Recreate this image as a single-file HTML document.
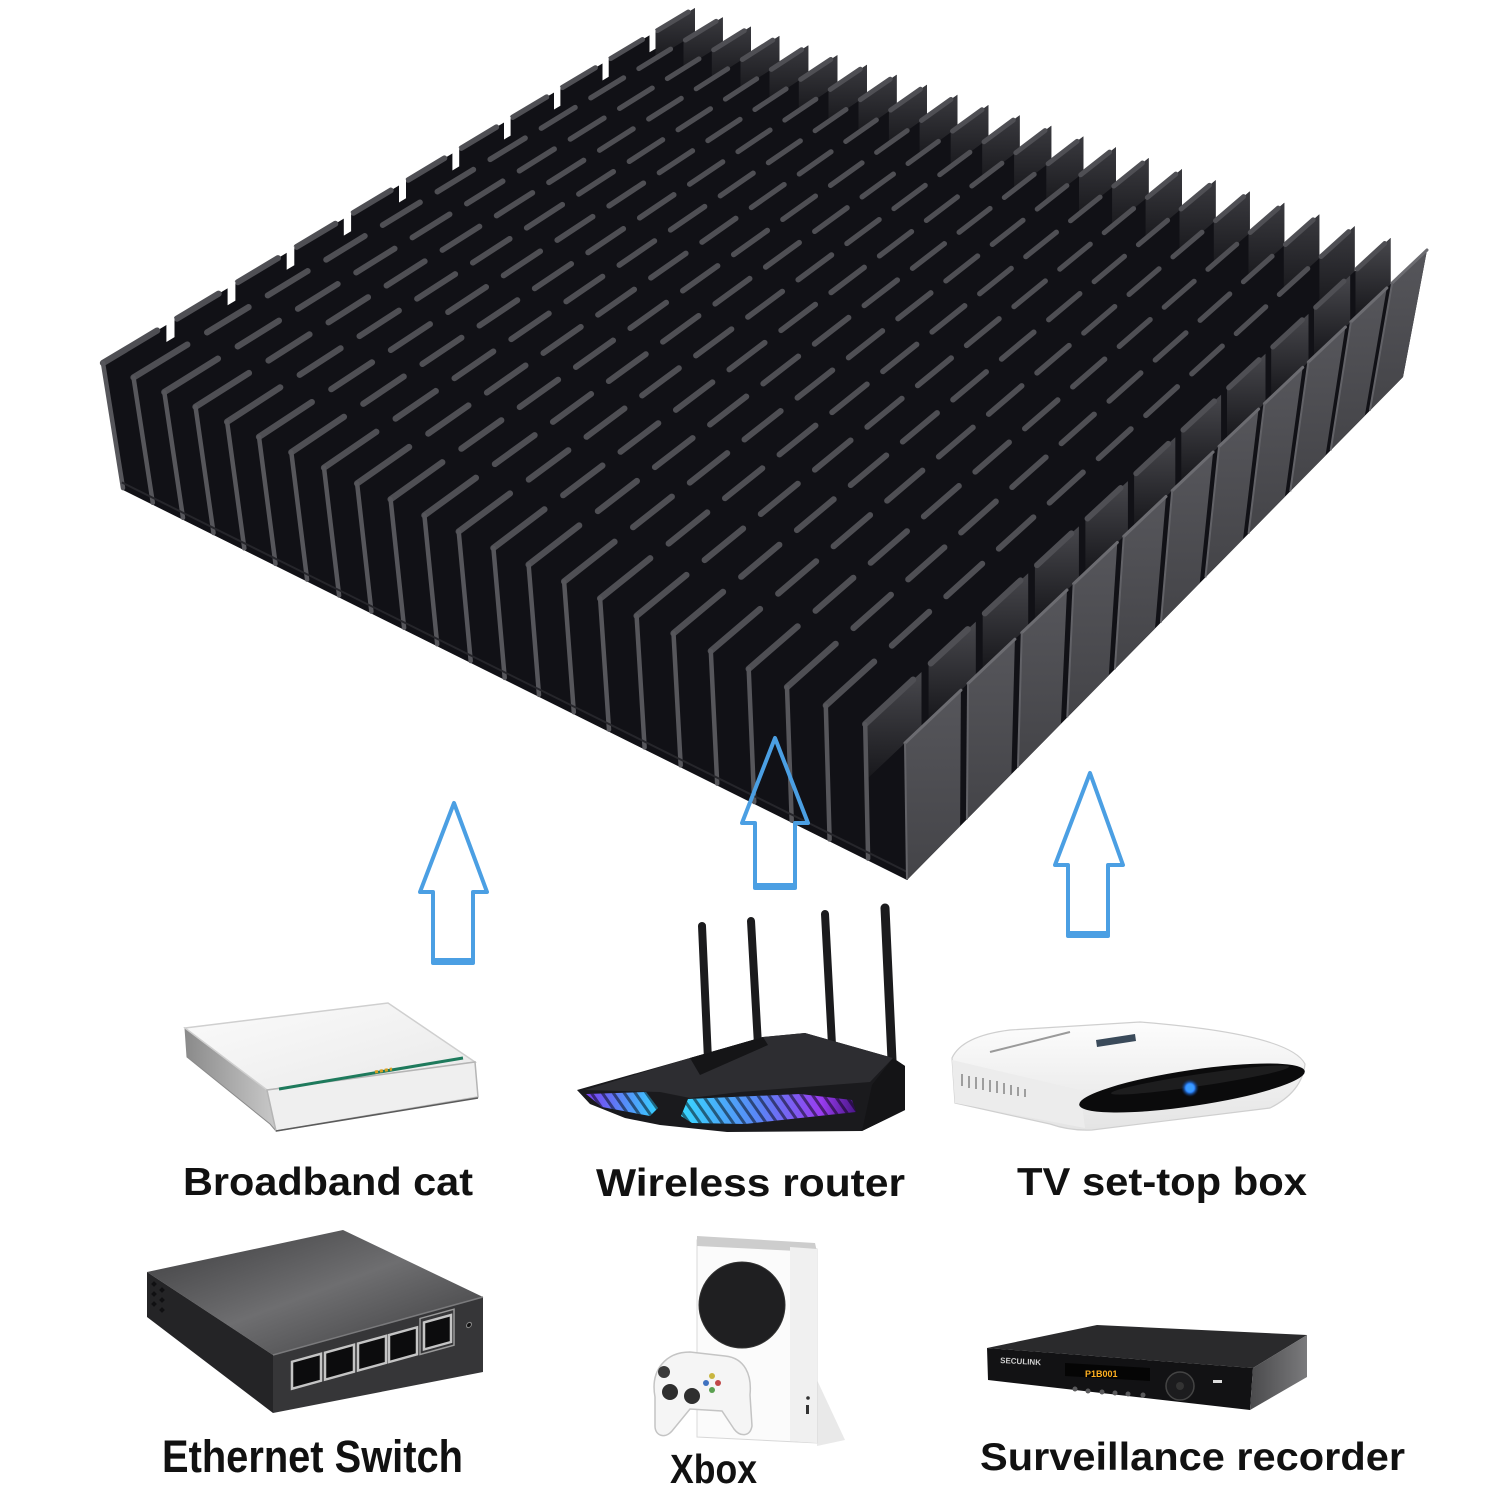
<!DOCTYPE html>
<html><head><meta charset="utf-8">
<style>
html,body{margin:0;padding:0;background:#fff;width:1500px;height:1500px;overflow:hidden;}
svg{display:block;}
text{font-family:"Liberation Sans",sans-serif;}
</style></head>
<body>
<svg id="s" width="1500" height="1500" viewBox="0 0 1500 1500" xmlns="http://www.w3.org/2000/svg">
<defs>
  <linearGradient id="gNear" x1="0" y1="0" x2="0" y2="1">
    <stop offset="0" stop-color="#56565b"/><stop offset="1" stop-color="#444448"/>
  </linearGradient>
  <linearGradient id="gStrip" x1="0" y1="0" x2="0" y2="1">
    <stop offset="0" stop-color="#48484d"/><stop offset="1" stop-color="#17171b"/>
  </linearGradient>
  <linearGradient id="gTooth" x1="0" y1="0" x2="0" y2="1">
    <stop offset="0" stop-color="#3a3a3f"/><stop offset="1" stop-color="#1a1a1e"/>
  </linearGradient>
  <linearGradient id="mTop" x1="0" y1="0" x2="1" y2="1">
    <stop offset="0" stop-color="#fbfbfb"/><stop offset="1" stop-color="#e9e9e9"/>
  </linearGradient>
  <linearGradient id="mLeft" x1="0" y1="0" x2="1" y2="0">
    <stop offset="0" stop-color="#8a8a8a"/><stop offset="1" stop-color="#c9c9c9"/>
  </linearGradient>
  <linearGradient id="ledL" x1="0" y1="0" x2="1" y2="0">
    <stop offset="0" stop-color="#7b3cf0"/><stop offset="1" stop-color="#36d2ff"/>
  </linearGradient>
  <linearGradient id="ledR" x1="0" y1="0" x2="1" y2="0">
    <stop offset="0" stop-color="#38d8ff"/><stop offset="0.45" stop-color="#5a84f5"/><stop offset="0.8" stop-color="#9a3cf0"/><stop offset="1" stop-color="#4a1688"/>
  </linearGradient>
  <pattern id="stripes" patternUnits="userSpaceOnUse" width="9" height="9" patternTransform="rotate(-35)">
    <rect x="0" y="0" width="3" height="9" fill="rgba(0,0,0,0.5)"/>
  </pattern>
  <linearGradient id="swTop" x1="0" y1="0" x2="1" y2="1">
    <stop offset="0" stop-color="#3c3c3e"/><stop offset="0.5" stop-color="#6e6e70"/><stop offset="1" stop-color="#3a3a3c"/>
  </linearGradient>
  <linearGradient id="stbBody" x1="0" y1="0" x2="0" y2="1">
    <stop offset="0" stop-color="#fdfdfd"/><stop offset="1" stop-color="#e4e4e4"/>
  </linearGradient>
  <linearGradient id="dvrSide" x1="0" y1="0" x2="1" y2="0">
    <stop offset="0" stop-color="#4a4a4c"/><stop offset="1" stop-color="#7a7a7c"/>
  </linearGradient>
  <radialGradient id="led" cx="0.5" cy="0.5" r="0.5">
    <stop offset="0" stop-color="#9fd4ff"/><stop offset="0.5" stop-color="#2a86ff"/><stop offset="1" stop-color="#0a2a66" stop-opacity="0"/>
  </radialGradient>
</defs>

<g id="hs"></g>

<!-- Arrows -->
<g fill="none" stroke="#4b9fe3" stroke-width="4" stroke-linejoin="round">
  <path d="M454,803 L487,892 L473,892 L473,963 L433,963 L433,892 L420,892 Z"/>
  <path d="M775,738 L808,823 L795,823 L795,888 L755,888 L755,823 L742,823 Z"/>
  <path d="M1090,773 L1123,865 L1108,865 L1108,936 L1068,936 L1068,865 L1055,865 Z"/>
</g>
<g fill="#4b9fe3">
  <rect x="433" y="958" width="40" height="7"/>
  <rect x="755" y="883" width="40" height="7"/>
  <rect x="1068" y="931" width="40" height="7"/>
</g>

<!-- Broadband cat (modem) -->
<g>
  <polygon points="185,1028 187,1057 270,1124 276,1131 267,1090" fill="url(#mLeft)" stroke="#8a8a8a" stroke-width="1"/>
  <polygon points="185,1028 388,1003 475,1062 267,1090" fill="url(#mTop)" stroke="#cfcfcf" stroke-width="1.5"/>
  <polygon points="267,1090 475,1062 478,1097 276,1131" fill="#efefef" stroke="#b5b5b5" stroke-width="1.5"/>
  <line x1="279" y1="1089" x2="463" y2="1058" stroke="#1e7a5c" stroke-width="3"/>
  <line x1="375" y1="1072" x2="392" y2="1069" stroke="#d8a020" stroke-width="3" stroke-dasharray="3,2"/>
  <line x1="276" y1="1131" x2="478" y2="1098" stroke="#5a5a5a" stroke-width="1.5"/>
</g>

<!-- Wireless router -->
<g>
  <g stroke="#1b1b1d" stroke-linecap="round">
    <line x1="702" y1="926" x2="708" y2="1060" stroke-width="8"/>
    <line x1="751" y1="921" x2="758" y2="1045" stroke-width="8"/>
    <line x1="825" y1="914" x2="832" y2="1045" stroke-width="8"/>
    <line x1="885" y1="908" x2="892" y2="1060" stroke-width="9"/>
  </g>
  <polygon points="577,1090 690,1058 763,1037 805,1033 893,1058 905,1066 905,1110 862,1131 727,1132 660,1125 625,1118 590,1104" fill="#1a1a1d"/>
  <polygon points="585,1090 690,1058 763,1037 805,1033 893,1058 870,1082 740,1092 690,1098 660,1092" fill="#2d2d31"/>
  <polygon points="690,1058 763,1037 768,1045 700,1075" fill="#151517"/>
  <polygon points="586,1094 646,1092 658,1108 650,1116 602,1107" fill="url(#ledL)"/>
  <polygon points="586,1094 646,1092 658,1108 650,1116 602,1107" fill="url(#stripes)"/>
  <polygon points="688,1099 800,1094 852,1100 856,1112 745,1124 692,1123 681,1116" fill="url(#ledR)"/>
  <polygon points="688,1099 800,1094 852,1100 856,1112 745,1124 692,1123 681,1116" fill="url(#stripes)"/>
  <polygon points="893,1058 905,1066 905,1110 862,1131 872,1085" fill="#141416"/>
</g>

<!-- TV set-top box -->
<g>
  <path d="M952,1058 Q962,1036 1010,1030 L1140,1022 Q1290,1034 1305,1064 Q1302,1092 1270,1108 L1092,1130 Q1070,1131 1050,1124 L955,1103 Z" fill="url(#stbBody)" stroke="#cfcfcf" stroke-width="1.2"/>
  <path d="M952,1060 L1080,1090 L1085,1128 L955,1103 Z" fill="#ececec"/>
  <g stroke="#8a8a8a" stroke-width="1.6">
    <line x1="962" y1="1074" x2="962" y2="1086"/><line x1="969" y1="1076" x2="969" y2="1088"/>
    <line x1="976" y1="1077" x2="976" y2="1089"/><line x1="983" y1="1078" x2="983" y2="1090"/>
    <line x1="990" y1="1080" x2="990" y2="1092"/><line x1="997" y1="1081" x2="997" y2="1093"/>
    <line x1="1004" y1="1083" x2="1004" y2="1094"/><line x1="1011" y1="1085" x2="1011" y2="1095"/>
    <line x1="1018" y1="1087" x2="1018" y2="1096"/><line x1="1025" y1="1089" x2="1025" y2="1097"/>
  </g>
  <ellipse cx="1192" cy="1088" rx="114" ry="18" transform="rotate(-8.5 1192 1088)" fill="#0b0b0c"/>
  <ellipse cx="1200" cy="1080" rx="90" ry="6" transform="rotate(-8.5 1200 1080)" fill="#2a2a2c" opacity="0.6"/>
  <circle cx="1190" cy="1088" r="9" fill="url(#led)"/>
  <circle cx="1190" cy="1088" r="3.5" fill="#3a9cff"/>
  <polygon points="1096,1040 1135,1034 1136,1041 1097,1047" fill="#3a4a5a"/>
  <line x1="990" y1="1052" x2="1070" y2="1032" stroke="#9a9a9a" stroke-width="2"/>
</g>

<!-- Ethernet switch -->
<g>
  <polygon points="147,1272 343,1230 483,1297 273,1355" fill="url(#swTop)"/>
  <polygon points="147,1272 273,1355 273,1413 147,1317" fill="#242426"/>
  <polygon points="273,1355 483,1297 483,1372 273,1413" fill="#363638"/>
  <line x1="273" y1="1355" x2="483" y2="1297" stroke="#7a7a7c" stroke-width="1.5"/>
  <g fill="#101012">
    <rect x="152" y="1282" width="4" height="4" transform="rotate(45 154 1284)"/>
    <rect x="160" y="1288" width="4" height="4" transform="rotate(45 162 1290)"/>
    <rect x="152" y="1292" width="4" height="4" transform="rotate(45 154 1294)"/>
    <rect x="160" y="1298" width="4" height="4" transform="rotate(45 162 1300)"/>
    <rect x="152" y="1302" width="4" height="4" transform="rotate(45 154 1304)"/>
    <rect x="160" y="1308" width="4" height="4" transform="rotate(45 162 1310)"/>
  </g>
  <g transform="translate(273,1355) skewY(-15.4)">
    <rect x="19" y="12" width="29" height="27" fill="#0c0c0d" stroke="#c4c4c4" stroke-width="2.5"/>
    <rect x="52" y="12" width="29" height="27" fill="#0c0c0d" stroke="#c4c4c4" stroke-width="2.5"/>
    <rect x="85" y="12" width="28" height="27" fill="#0c0c0d" stroke="#c4c4c4" stroke-width="2.5"/>
    <rect x="116" y="12" width="28" height="27" fill="#0c0c0d" stroke="#c4c4c4" stroke-width="2.5"/>
    <rect x="147" y="4" width="34" height="36" fill="none" stroke="#9a9a9a" stroke-width="1.5"/>
    <rect x="151" y="9" width="27" height="27" fill="#0c0c0d" stroke="#c4c4c4" stroke-width="2.5"/>
    <circle cx="196" cy="24" r="2.5" fill="#111" stroke="#888" stroke-width="1"/>
  </g>
</g>

<!-- Xbox -->
<g>
  <polygon points="817,1380 845,1440 817,1446" fill="#e9e9e9"/>
  <polygon points="697,1240 817,1249 817,1443 697,1437" fill="#fbfbfb" stroke="#d8d8d8" stroke-width="1"/>
  <polygon points="697,1236 815,1243 817,1252 697,1246" fill="#cdcdcd"/>
  <polygon points="790,1247 817,1249 817,1443 790,1441" fill="#f0f0f0"/>
  <circle cx="742" cy="1305" r="43" fill="#1f1f21"/>
  <circle cx="742" cy="1305" r="43" fill="none" stroke="#333" stroke-width="1"/>
  <rect x="806" y="1405" width="3" height="9" fill="#333"/>
  <circle cx="808" cy="1398" r="1.8" fill="#333"/>
  <path d="M655,1397 C650,1370 666,1352 690,1352 L725,1356 C745,1358 752,1375 750,1395 L752,1426 C750,1437 740,1437 734,1429 L722,1411 L690,1409 L672,1431 C665,1439 655,1436 655,1426 Z" fill="#f5f5f5" stroke="#c4c4c4" stroke-width="1.5"/>
  <circle cx="664" cy="1372" r="6" fill="#3a3a3a"/>
  <circle cx="670" cy="1392" r="8" fill="#2e2e2e"/>
  <circle cx="692" cy="1396" r="8" fill="#2e2e2e"/>
  <circle cx="712" cy="1376" r="3" fill="#c9b640"/>
  <circle cx="706" cy="1383" r="3" fill="#3f72c0"/>
  <circle cx="718" cy="1383" r="3" fill="#c04848"/>
  <circle cx="712" cy="1390" r="3" fill="#5aa050"/>
</g>

<!-- Surveillance recorder -->
<g>
  <polygon points="987,1348 1097,1325 1307,1335 1253,1368" fill="#2a2a2c"/>
  <polygon points="987,1348 1253,1368 1250,1410 988,1380" fill="#121214"/>
  <polygon points="1253,1368 1307,1335 1307,1377 1250,1410" fill="url(#dvrSide)"/>
  <polygon points="1065,1363 1150,1368 1150,1381 1065,1376" fill="#050505"/>
  <text x="1085" y="1377" font-size="9" fill="#ffb020" font-weight="bold">P1B001</text>
  <text x="1000" y="1363" font-size="8" fill="#cfcfcf" font-weight="bold" transform="rotate(3 1000 1363)">SECULINK</text>
  <g fill="#5a5a5c">
    <circle cx="1075" cy="1389" r="2.5"/><circle cx="1088" cy="1391" r="2.5"/>
    <circle cx="1102" cy="1392" r="2.5"/><circle cx="1115" cy="1393" r="2.5"/>
    <circle cx="1128" cy="1394" r="2.5"/><circle cx="1143" cy="1395" r="2.5"/>
  </g>
  <circle cx="1180" cy="1386" r="14" fill="#1c1c1e" stroke="#444" stroke-width="1.5"/>
  <circle cx="1180" cy="1386" r="4" fill="#333"/>
  <rect x="1213" y="1380" width="9" height="3" fill="#ddd"/>
</g>

<!-- Labels -->
<g fill="#111" font-weight="bold">
  <text x="183" y="1195" font-size="39" textLength="290" lengthAdjust="spacingAndGlyphs">Broadband cat</text>
  <text x="596" y="1196" font-size="39" textLength="309" lengthAdjust="spacingAndGlyphs">Wireless router</text>
  <text x="1017" y="1195" font-size="39" textLength="290" lengthAdjust="spacingAndGlyphs">TV set-top box</text>
  <text x="162" y="1472" font-size="45" textLength="301" lengthAdjust="spacingAndGlyphs">Ethernet Switch</text>
  <text x="670" y="1483" font-size="41" textLength="87" lengthAdjust="spacingAndGlyphs">Xbox</text>
  <text x="980" y="1470" font-size="39" textLength="425" lengthAdjust="spacingAndGlyphs">Surveillance recorder</text>
</g>
</svg>

<script>
(function(){
var NS="http://www.w3.org/2000/svg";
var g=document.getElementById('hs');
var TL=[103,363],TN=[905,743],TF=[695,8],TR=[1427,250];
var BL=[123,490],BN=[907,880],BR=[1403,377];
var NL=24,NR=11,GP=0.13;
function pr(t,k){return t/(k-(k-1)*t);}
function fa(a){return pr(a,1.15);}
function fb(b){return 1-pr(1-b,1.2);}
function P(a,b){var A=fa(a),B=fb(b);
  return [(1-A)*(1-B)*TL[0]+A*(1-B)*TN[0]+(1-A)*B*TF[0]+A*B*TR[0],
          (1-A)*(1-B)*TL[1]+A*(1-B)*TN[1]+(1-A)*B*TF[1]+A*B*TR[1]];}
function lerp(p,q,t){return [p[0]+(q[0]-p[0])*t,p[1]+(q[1]-p[1])*t];}
function BF(a){return lerp(BL,BN,fa(a));}
function BRt(b){return lerp(BN,BR,fb(b));}
function el(n,at){var e=document.createElementNS(NS,n);for(var k in at)e.setAttribute(k,at[k]);g.appendChild(e);return e;}
function pts(arr){return arr.map(function(p){return p[0].toFixed(1)+','+p[1].toFixed(1);}).join(' ');}
function ai(i){return i/(NL-1);}
function segS(j){return (j+(j>0?GP:0))/NR;}
function segE(j){return (j+1)/NR;}
function yOn(p,d,x){return p[1]+(x-p[0])*d[1]/d[0];}

// silhouette
var sil=[TL,TF];
var drops=[];
for(var i=0;i<NL-1;i++){
  var p=P(ai(i),1), q=P(ai(i+1),1), q2=P(ai(i+1),0.9);
  var d=[q[0]-q2[0],q[1]-q2[1]];
  var y=yOn(q,d,p[0]);
  sil.push([p[0],y]); sil.push(q);
  drops.push({p:p,q:q,d:d,y:y});
}
sil.push(BR,BN,BL);
el('polygon',{points:pts(sil),fill:'#111116'});

// back teeth panels
var bsl=segS(NR-1);
for(var i=0;i<NL-1;i++){
  var A=P(ai(i),bsl), B=P(ai(i),1), D=drops[i];
  var C=[B[0],D.y], E=[A[0],yOn(D.q,D.d,A[0])];
  el('polygon',{points:pts([A,B,C,E]),fill:'url(#gTooth)'});
}

// upper strip panels (second-to-last fin above near fin)
var aS=ai(NL-2);
function yNear(x){return TN[1]+(x-TN[0])*(TR[1]-TN[1])/(TR[0]-TN[0]);}
for(var j=0;j<NR;j++){
  var A=P(aS,segS(j)), B=P(aS,segE(j));
  el('polygon',{points:pts([A,B,[B[0],yNear(B[0])],[A[0],yNear(A[0])]]),fill:'url(#gStrip)'});
}

// top dashes
for(var i=0;i<NL-1;i++){
  for(var j=0;j<NR;j++){
    var b1=(j===0)?0:(j+0.17)/NR, b2=(j+0.85)/NR;
    var p1=P(ai(i),b1), p2=P(ai(i),b2);
    var w=4.8+1.6*(1-(b1+b2)/2);
    el('line',{x1:p1[0].toFixed(1),y1:p1[1].toFixed(1),x2:p2[0].toFixed(1),y2:p2[1].toFixed(1),
      stroke:'#4f4f54','stroke-width':w.toFixed(1),'stroke-linecap':'round'});
  }
}

// front fin edges
for(var i=0;i<NL-1;i++){
  var t=P(ai(i),0), b=BF(ai(i));
  el('line',{x1:b[0].toFixed(1),y1:(b[1]-2).toFixed(1),x2:t[0].toFixed(1),y2:t[1].toFixed(1),
    stroke:'#56565b','stroke-width':'4.5','stroke-linecap':'round'});
}
// base edge hint
var bl1=lerp(BL,TL,0.06), bn1=lerp(BN,TN,0.06);
el('line',{x1:bl1[0],y1:bl1[1],x2:bn1[0],y2:bn1[1],stroke:'#26262b','stroke-width':'2'});

// near fin panels (right face)
for(var j=0;j<NR;j++){
  var s=segS(j), e=segE(j);
  var A=P(1,s), B=P(1,e), C=BRt(e), D=BRt(s);
  el('polygon',{points:pts([A,B,C,D]),fill:'url(#gNear)'});
  el('line',{x1:A[0],y1:A[1],x2:B[0],y2:B[1],stroke:'#6c6c71','stroke-width':'3','stroke-linecap':'round'});
  el('line',{x1:A[0],y1:A[1],x2:D[0],y2:D[1],stroke:'#626267','stroke-width':'2'});
}

// notches along top-left edge
for(var j=1;j<NR;j++){
  var p1=P(0,j/NR), p2=P(0,(j+GP)/NR);
  el('polygon',{points:pts([[p1[0],p1[1]-2],[p2[0],p2[1]-2],[p2[0],p2[1]+17],[p1[0],p1[1]+17]]),fill:'#ffffff'});
}
})();
</script>
</body></html>
